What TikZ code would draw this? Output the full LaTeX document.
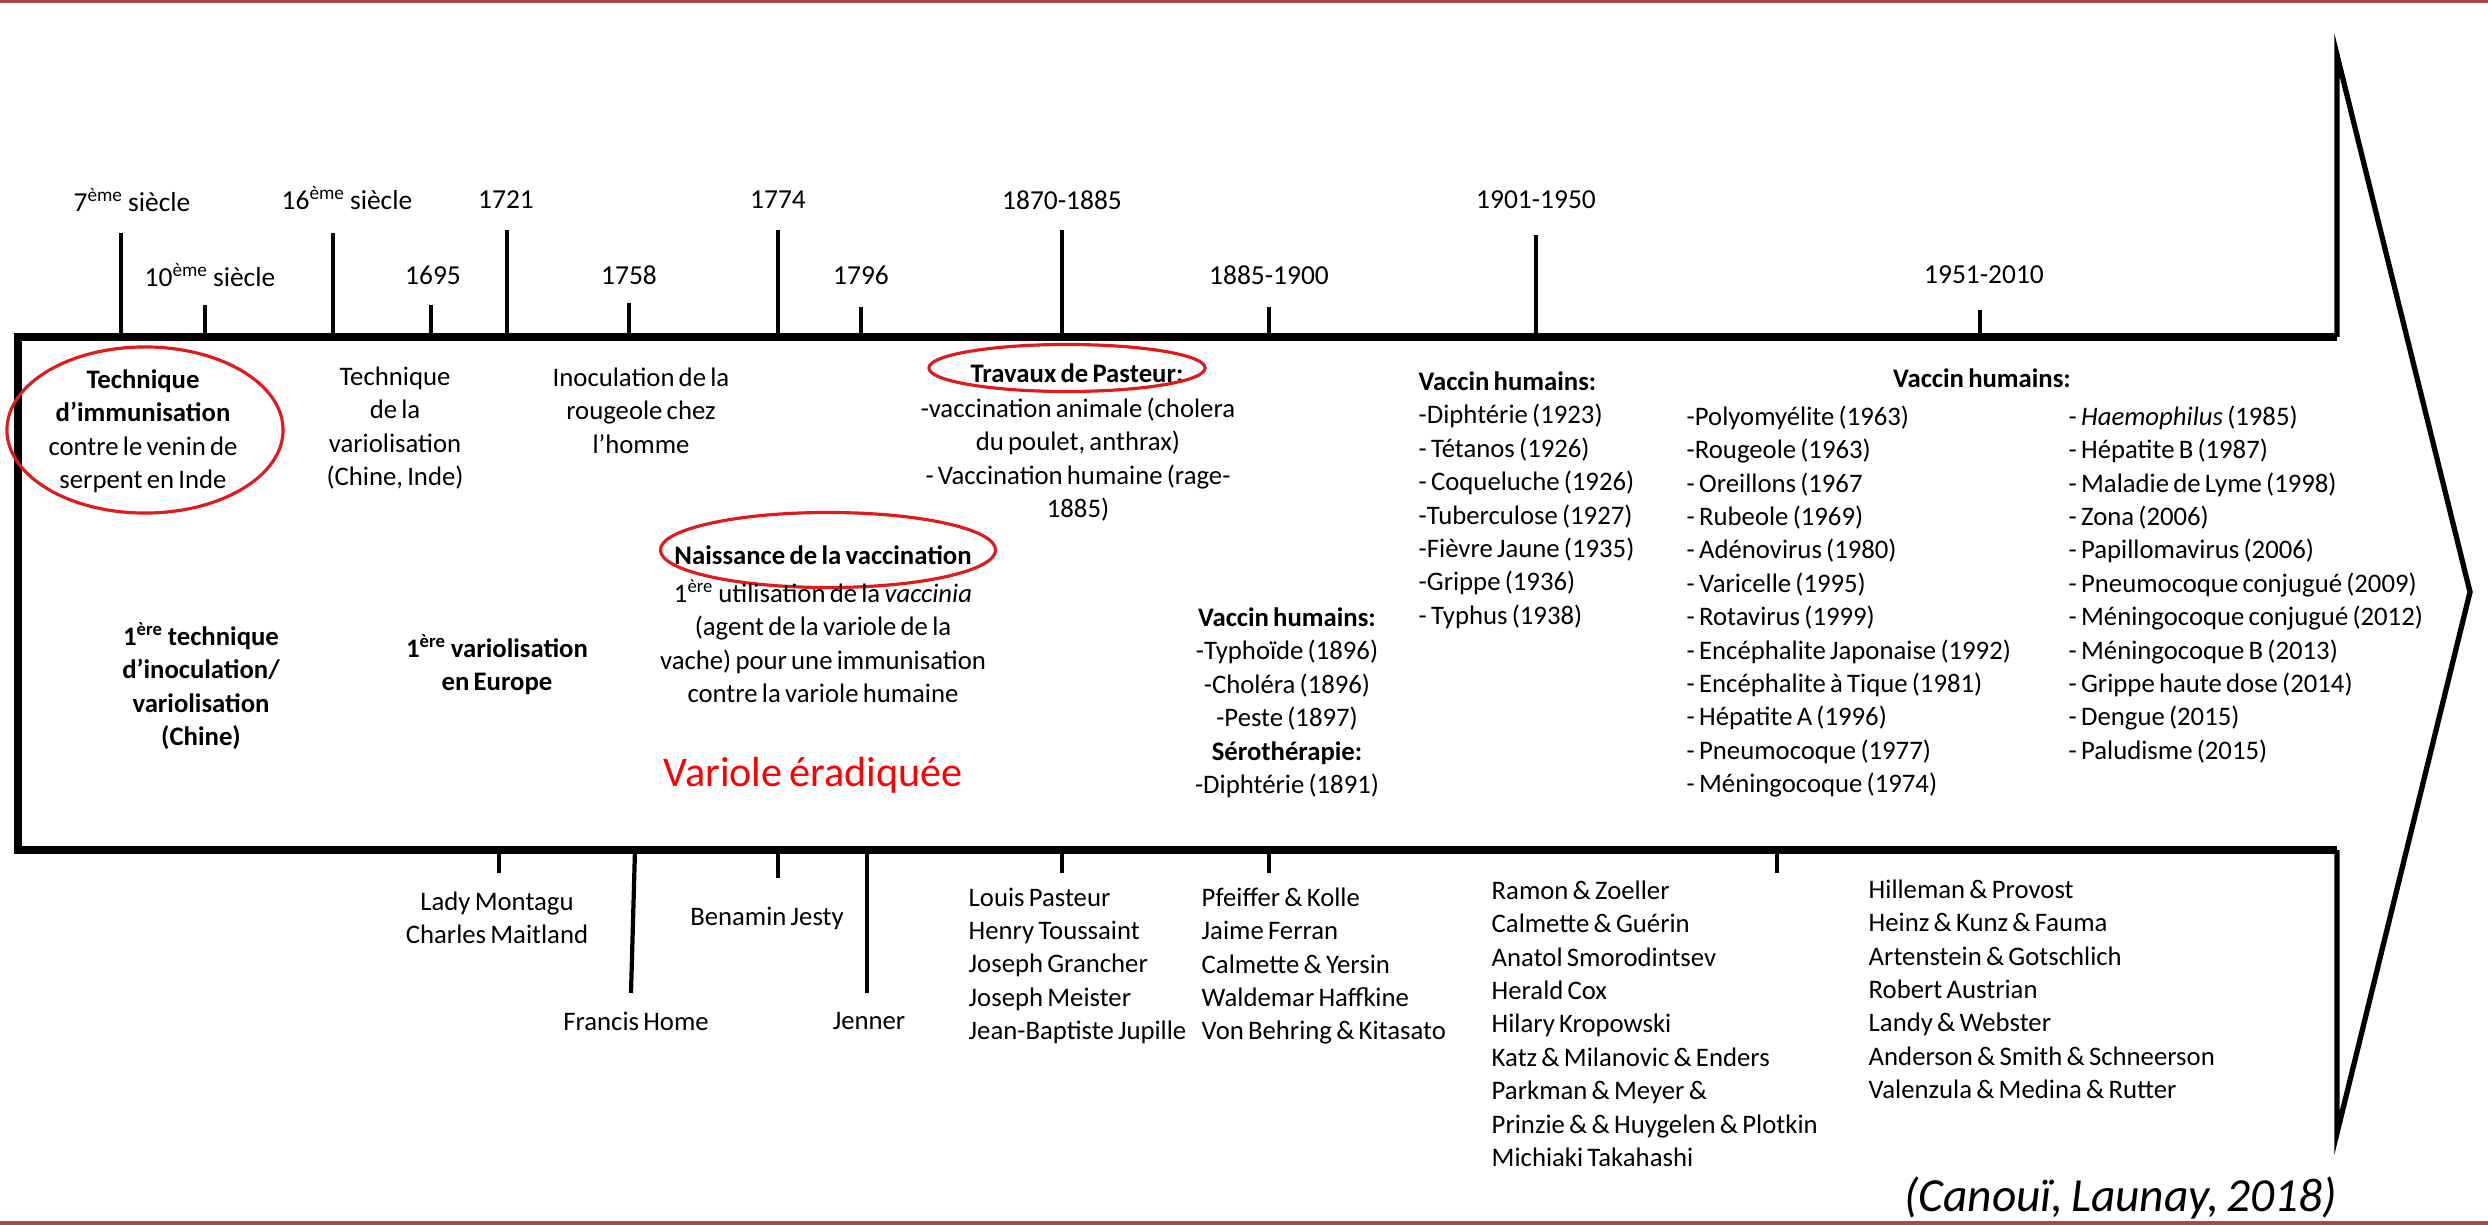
\documentclass[tikz,border=0pt]{standalone}
\usepackage{fontspec}
\setmainfont{Carlito}[WordSpace=0.7]
\usetikzlibrary{shapes,positioning}
\definecolor{ringred}{HTML}{E01B1B}
\definecolor{framered}{HTML}{A84848}

\begin{document}
\begin{tikzpicture}[x=0.01cm, y=-0.01cm,
  txt/.style={font=\fontsize{7.6}{9.5}\selectfont, align=center, inner sep=0pt},
  lst/.style={txt, align=left, anchor=north west},
  yr/.style={font=\fontsize{7.8}{9.5}\selectfont, inner sep=0pt},
  tick/.style={line width=1.2pt},
  ring/.style={ellipse, draw=ringred, line width=0.9pt, inner sep=0pt}
]
  \fill[white] (0,0) rectangle (2488,1225);
  \useasboundingbox (0,0) rectangle (2488,1225);
  % Slide frame
  \draw[framered, line width=0.9pt] (0,1.5) -- (2488,1.5);
  \draw[framered, line width=0.9pt] (0,1223) -- (2488,1223);
  % Arrow outline
  \draw[line width=2.2pt] (2337,337) -- (18,337) -- (18,850) -- (2337,850);
  \draw[line width=1.5pt, line join=miter] (2337,337) -- (2337,55) -- (2470,592) -- (2337,1133) -- (2337,850);
  % Dates, first row
  \node[yr] (d7) at (132,200) {7\textsuperscript{ème} siècle};
  \node[yr] (d16) at (347,198) {16\textsuperscript{ème} siècle};
  \node[yr] (d1721) at (506,200) {1721};
  \node[yr] (d1774) at (778,200) {1774};
  \node[yr] (d1870) at (1062,200) {1870-1885};
  \node[yr] (d1901) at (1536,200) {1901-1950};
  % Dates, second row
  \node[yr] (d10) at (210,275) {10\textsuperscript{ème} siècle};
  \node[yr] (d1695) at (433,275) {1695};
  \node[yr] (d1758) at (629,275) {1758};
  \node[yr] (d1796) at (861,275) {1796};
  \node[yr] (d1885) at (1269,275) {1885-1900};
  \node[yr] (d1951) at (1984,275) {1951-2010};
  % Ticks above
  \draw[tick] (121,233) -- (121,337);
  \draw[tick] (333,233) -- (333,337);
  \draw[tick] (507,230) -- (507,337);
  \draw[tick] (778,230) -- (778,337);
  \draw[tick] (1062,230) -- (1062,337);
  \draw[tick] (1536,235) -- (1536,337);
  \draw[tick] (205,305) -- (205,337);
  \draw[tick] (431,305) -- (431,337);
  \draw[tick] (629,303) -- (629,337);
  \draw[tick] (861,307) -- (861,337);
  \draw[tick] (1269,307) -- (1269,337);
  \draw[tick] (1980,310) -- (1980,337);
  % Ticks below
  \draw[tick] (499,850) -- (499,873);
  \draw[tick] (635,850) -- (631,993);
  \draw[tick] (778,850) -- (778,878);
  \draw[tick] (867,850) -- (867,993);
  \draw[tick] (1062,850) -- (1062,873);
  \draw[tick] (1269,850) -- (1269,873);
  \draw[tick] (1777,850) -- (1777,873);
  % Events inside the arrow
  \node[txt, anchor=north] (immun) at (143,369) {\textbf{Technique}\\\textbf{d'immunisation}\\contre le venin de\\serpent en Inde};
  \node[ring, minimum width=2.76cm, minimum height=1.66cm] (ringImmun) at (145,430) {};
  \node[txt, anchor=north] (vario) at (395,366) {Technique\\de la\\variolisation\\(Chine, Inde)};
  \node[txt, anchor=north] (rougeole) at (641,367) {Inoculation de la\\rougeole chez\\l'homme};
  \node[txt, font=\fontsize{7.6}{9.5}\selectfont\bfseries] (pasteur) at (1077,373) {Travaux de Pasteur:};
  \node[ring, minimum width=2.76cm, minimum height=0.47cm] (ringPasteur) at (1067,368) {};
  \node[txt, anchor=north] (pasteurTxt) at (1078,397) {-vaccination animale (cholera\\du poulet, anthrax)\\- Vaccination humaine (rage-\\1885)};
  \node[txt, font=\fontsize{7.6}{9.5}\selectfont\bfseries] (naiss) at (823,555) {Naissance de la vaccination};
  \node[ring, minimum width=3.35cm, minimum height=0.75cm] (ringNaiss) at (828,550) {};
  \node[txt, anchor=north] (naissTxt) at (823,579) {1\textsuperscript{ère} utilisation de la \textit{vaccinia}\\(agent de la variole de la\\vache) pour une immunisation\\contre la variole humaine};
  \node[txt, anchor=north, font=\fontsize{7.6}{9.5}\selectfont\bfseries] (inocul) at (201,622) {1\textsuperscript{ère} technique\\d'inoculation/\\variolisation\\(Chine)};
  \node[txt, anchor=north, font=\fontsize{7.6}{9.5}\selectfont\bfseries] (europe) at (497,634) {1\textsuperscript{ère} variolisation\\en Europe};
  \node[txt, font=\fontsize{12}{14}\selectfont, text=red] (eradic) at (813,775) {Variole éradiquée};
  % Vaccines
  \node[txt, anchor=north] (vacc1885) at (1287,607) {\textbf{Vaccin humains:}\\-Typhoïde (1896)\\-Choléra (1896)\\-Peste (1897)\\\textbf{Sérothérapie:}\\-Diphtérie (1891)};
  \node[lst] (vacc1901) at (1418,371) {\textbf{Vaccin humains:}\\-Diphtérie (1923)\\- Tétanos (1926)\\- Coqueluche (1926)\\-Tuberculose (1927)\\-Fièvre Jaune (1935)\\-Grippe (1936)\\- Typhus (1938)};
  \node[txt, font=\fontsize{7.6}{9.5}\selectfont\bfseries] (vacc1951) at (1982,378) {Vaccin humains:};
  \node[lst] (vacc1951a) at (1686,405) {-Polyomyélite (1963)\\-Rougeole (1963)\\- Oreillons (1967\\- Rubeole (1969)\\- Adénovirus (1980)\\- Varicelle (1995)\\- Rotavirus (1999)\\- Encéphalite Japonaise (1992)\\- Encéphalite à Tique (1981)\\- Hépatite A (1996)\\- Pneumocoque (1977)\\- Méningocoque (1974)};
  \node[lst] (vacc1951b) at (2068,405) {- \textit{Haemophilus} (1985)\\- Hépatite B (1987)\\- Maladie de Lyme (1998)\\- Zona (2006)\\- Papillomavirus (2006)\\- Pneumocoque conjugué (2009)\\- Méningocoque conjugué (2012)\\- Méningocoque B (2013)\\- Grippe haute dose (2014)\\- Dengue (2015)\\- Paludisme (2015)};
  % People below the arrow
  \node[txt, anchor=north] (montagu) at (497,891) {Lady Montagu\\Charles Maitland};
  \node[txt] (jesty) at (767,918) {Benamin Jesty};
  \node[txt] (home) at (636,1021) {Francis Home};
  \node[txt] (jenner) at (869,1021) {Jenner};
  \node[lst] (pastNames) at (968,887) {Louis Pasteur\\Henry Toussaint\\Joseph Grancher\\Joseph Meister\\Jean-Baptiste Jupille};
  \node[lst] (pfeiffer) at (1201,887) {Pfeiffer \& Kolle\\Jaime Ferran\\Calmette \& Yersin\\Waldemar Haffkine\\Von Behring \& Kitasato};
  \node[lst] (ramon) at (1491,880) {Ramon \& Zoeller\\Calmette \& Guérin\\Anatol Smorodintsev\\Herald Cox\\Hilary Kropowski\\Katz \& Milanovic \& Enders\\Parkman \& Meyer \&\\Prinzie \& \& Huygelen \& Plotkin\\Michiaki Takahashi};
  \node[lst] (hilleman) at (1868,879) {Hilleman \& Provost\\Heinz \& Kunz \& Fauma\\Artenstein \& Gotschlich\\Robert Austrian\\Landy \& Webster\\Anderson \& Smith \& Schneerson\\Valenzula \& Medina \& Rutter};
  % Source
  \node[anchor=east, inner sep=0pt, font=\fontsize{13.5}{15}\selectfont\itshape] (source) at (2338,1198) {(Canouï, Launay, 2018)};
\end{tikzpicture}
\end{document}
